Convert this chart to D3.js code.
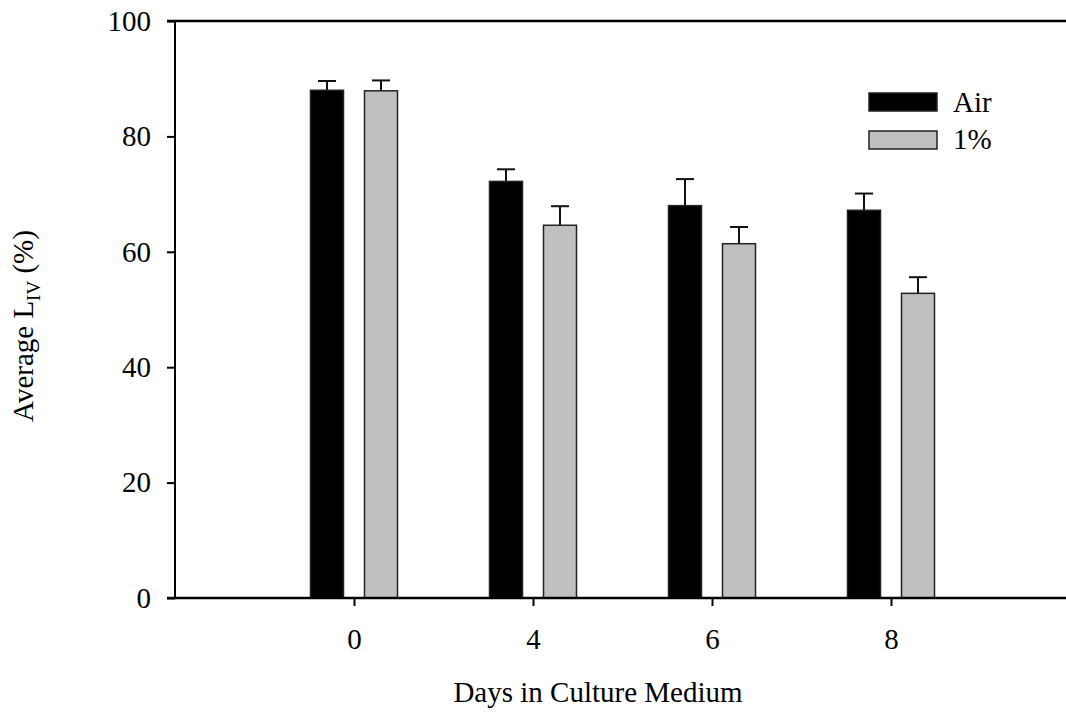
<!DOCTYPE html>
<html>
<head>
<meta charset="utf-8">
<script src="https://cdn.jsdelivr.net/npm/d3@7"></script>
<style>
  body { margin: 0; background: #fff; }
  svg text { font-family: "Liberation Serif", "Times New Roman", serif; fill: #000; }
</style>
</head>
<body>
<script>
// data
var days = ["0", "4", "6", "8"];
var seriesNames = ["Air", "1%"];
var airMean = [88.0, 72.2, 68.0, 67.2];
var airErr = [1.6, 2.1, 4.6, 2.9];
var lowMean = [87.9, 64.6, 61.4, 52.8];
var lowErr = [1.8, 3.3, 2.9, 2.8];
var yTicks = [0, 20, 40, 60, 80, 100];

var width = 1066, height = 712;
var plotLeft = 175, plotRight = 1070, plotTop = 21, plotBottom = 598;

var svg = d3.select("body").append("svg")
    .attr("width", width)
    .attr("height", height);

// x positions: the days sit at 1..4 on a 0..5 scale
var x = d3.scaleLinear().domain([0, 5]).range([plotLeft, plotRight]);
var y = d3.scaleLinear().domain([0, 100]).range([plotBottom, plotTop]);

var barW = 33, offset = 27;
var series = [
  {name: seriesNames[0], mean: airMean, err: airErr, fill: "#000000", dx: -offset},
  {name: seriesNames[1], mean: lowMean, err: lowErr, fill: "#c0c0c0", dx: offset}
];

//bars and error bars
series.forEach(function(s){
  var g = svg.append("g");
  var rows = days.map(function(d, i){ return {i: i, m: s.mean[i], e: s.err[i]}; });

  g.selectAll(".err")
    .data(rows).enter().append("line")
    .attr("x1", function(d){ return x(d.i + 1) + s.dx; })
    .attr("x2", function(d){ return x(d.i + 1) + s.dx; })
    .attr("y1", function(d){ return y(d.m); })
    .attr("y2", function(d){ return y(d.m + d.e); })
    .attr("stroke", "#111").attr("stroke-width", 2);

  g.selectAll(".cap")
    .data(rows).enter().append("line")
    .attr("x1", function(d){ return x(d.i + 1) + s.dx - 9; })
    .attr("x2", function(d){ return x(d.i + 1) + s.dx + 9; })
    .attr("y1", function(d){ return y(d.m + d.e); })
    .attr("y2", function(d){ return y(d.m + d.e); })
    .attr("stroke", "#111").attr("stroke-width", 2);

  g.selectAll("rect")
    .data(rows).enter().append("rect")
    .attr("x", function(d){ return x(d.i + 1) + s.dx - barW / 2; })
    .attr("y", function(d){ return y(d.m); })
    .attr("width", barW)
    .attr("height", function(d){ return y(0) - y(d.m); })
    .attr("fill", s.fill)
    .attr("stroke", "#222").attr("stroke-width", 1.5);
});

//axes
var yAxis = d3.axisLeft(y).tickValues(yTicks).tickSize(8).tickPadding(16);
var gy = svg.append("g").attr("transform", "translate(" + plotLeft + ",0)").call(yAxis);

var xAxis = d3.axisBottom(x).tickValues([1, 2, 3, 4])
    .tickFormat(function(v){ return days[v - 1]; })
    .tickSize(8).tickPadding(22);
var gx = svg.append("g").attr("transform", "translate(0," + plotBottom + ")").call(xAxis);

[gx, gy].forEach(function(g){
  g.select(".domain").remove();
  g.selectAll("line").attr("stroke", "#000").attr("stroke-width", 2);
  g.selectAll("text").style("font-family", "Liberation Serif, serif").style("font-size", "29px").attr("fill", "#000");
});

// frame lines: left, bottom, top
svg.append("line").attr("x1", plotLeft).attr("x2", plotLeft).attr("y1", plotTop - 1).attr("y2", plotBottom + 1)
  .attr("stroke", "#000").attr("stroke-width", 2);
svg.append("line").attr("x1", plotLeft - 8).attr("x2", plotRight).attr("y1", plotBottom).attr("y2", plotBottom)
  .attr("stroke", "#000").attr("stroke-width", 2.5);
svg.append("line").attr("x1", plotLeft - 8).attr("x2", plotRight).attr("y1", plotTop).attr("y2", plotTop)
  .attr("stroke", "#000").attr("stroke-width", 2.5);

//axis titles
svg.append("text")
  .attr("x", 598).attr("y", 702)
  .attr("text-anchor", "middle")
  .style("font-size", "29px")
  .text("Days in Culture Medium");

var yt = svg.append("text")
  .attr("transform", "translate(33,326) rotate(-90)")
  .attr("text-anchor", "middle")
  .style("font-size", "29px");
yt.append("tspan").text("Average L");
yt.append("tspan").attr("dy", 7).style("font-size", "19px").text("IV");
yt.append("tspan").attr("dy", -7).text(" (%)");

//legend
var legend = svg.append("g").attr("transform", "translate(869,93)");
series.forEach(function(s, i){
  legend.append("rect")
    .attr("x", 0).attr("y", i * 38)
    .attr("width", 68).attr("height", 18)
    .attr("fill", s.fill).attr("stroke", "#222").attr("stroke-width", 1.5);
  legend.append("text")
    .attr("x", 84).attr("y", i * 37 + 19)
    .style("font-size", "29px")
    .text(s.name);
});
</script>
</body>
</html>
